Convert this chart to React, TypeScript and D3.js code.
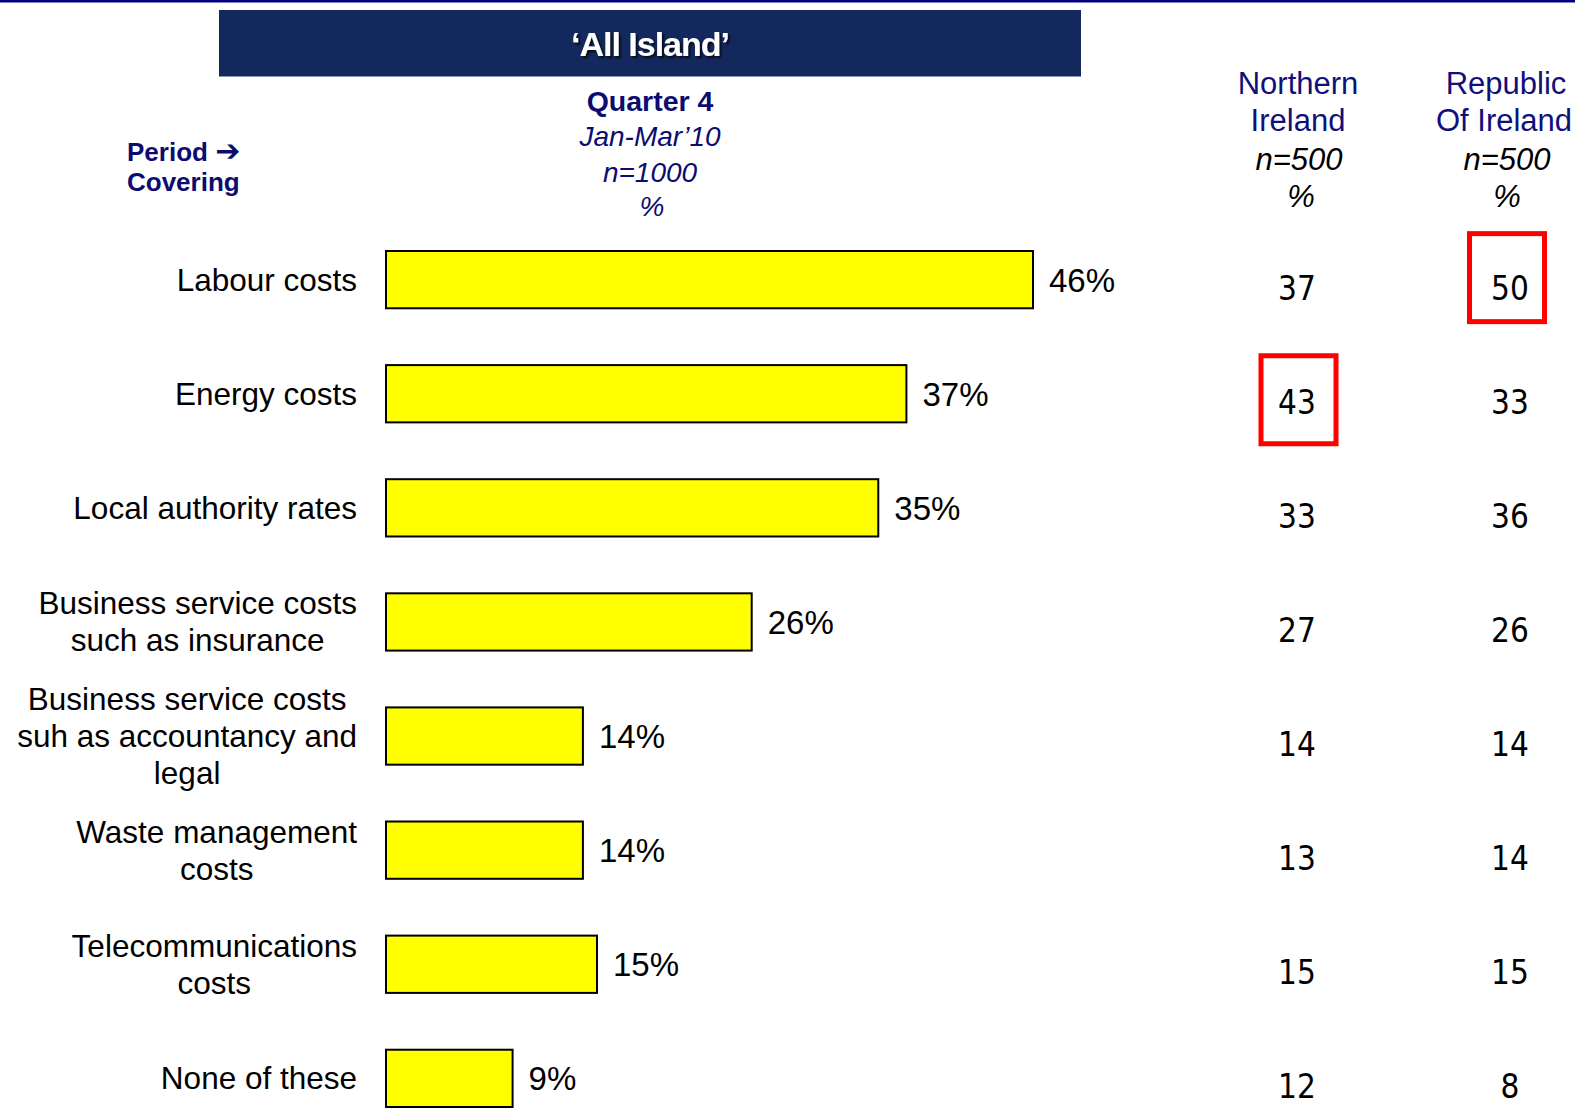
import React, { useMemo } from "react";
import * as d3 from "d3";

// ---- data ----
const categories: string[] = [
  "Labour costs",
  "Energy costs",
  "Local authority rates",
  "Business service costs such as insurance",
  "Business service costs suh as accountancy and legal",
  "Waste management costs",
  "Telecommunications costs",
  "None of these",
];
const categoryLines: string[][] = [
  ["Labour costs"],
  ["Energy costs"],
  ["Local authority rates"],
  ["Business service costs", "such as insurance"],
  ["Business service costs", "suh as accountancy and", "legal"],
  ["Waste management", "costs"],
  ["Telecommunications", "costs"],
  ["None of these"],
];
const allIsland: number[] = [46, 37, 35, 26, 14, 14, 15, 9];
const northernIreland: number[] = [37, 43, 33, 27, 14, 13, 15, 12];
const republicOfIreland: number[] = [50, 33, 36, 26, 14, 14, 15, 8];
const highlights: { row: string; col: "NI" | "ROI" }[] = [
  { row: "Labour costs", col: "ROI" },
  { row: "Energy costs", col: "NI" },
];

const W = 1575;
const H = 1110;
const NAVY = "#0c0c70";
const LABEL_FONT = "'Liberation Sans', Arial, sans-serif";
const NUM_FONT = "'DejaVu Sans Condensed', 'DejaVu Sans', sans-serif";

function measure(text: string, font: string): number {
  const c = document.createElement("canvas");
  const ctx = c.getContext("2d")!;
  ctx.font = font;
  return ctx.measureText(text).width;
}

export default function App() {
  const x = d3.scaleLinear().domain([0, 46]).range([386, 1033]);
  const y = d3.scaleBand<string>().domain(categories).range([251, 1107]).paddingInner(0.498).paddingOuter(0);
  const colX = { NI: 1297, ROI: 1510 };
  const boxCx = { NI: 1298.5, ROI: 1507 };
  const boxTop = { NI: -38, ROI: -46 };

  const labelFontSize = 31.5;
  const labelRight = 357;
  const lineGap = 37;

  const blocks = useMemo(
    () =>
      categoryLines.map((lines) => {
        const maxW = d3.max(lines, (l) => measure(l, `${labelFontSize}px ${LABEL_FONT}`)) || 0;
        return { lines, cx: labelRight - maxW / 2 };
      }),
    []
  );

  return (
    <svg
      width={W}
      height={H}
      style={{ position: "absolute", left: 0, top: 0, background: "#fff" }}
      fontFamily={LABEL_FONT}
    >
      <defs>
        <filter id="shadow" x="-10%" y="-30%" width="130%" height="170%">
          <feDropShadow dx={2} dy={2} stdDeviation={0.8} floodColor="#000" floodOpacity={0.75} />
        </filter>
      </defs>
      {/* top rule */}
      <rect x={0} y={0} width={W} height={2.5} fill="#000080" />
      {/* banner */}
      <rect x={219} y={10} width={862} height={66.5} fill="#13285c" />
      <text
        x={650}
        y={56}
        textAnchor="middle"
        fontSize={34}
        fontWeight="bold"
        fill="#fff"
        letterSpacing={-1}
        filter="url(#shadow)"
      >
        ‘All Island’
      </text>

      {/* period header */}
      <text x={127} y={161} fontSize={26} fontWeight="bold" fill={NAVY}>
        Period{" "}
        <tspan fontFamily="'DejaVu Sans', sans-serif" fontSize={30} fontWeight="bold">
          ➔
        </tspan>
      </text>
      <text x={127} y={191} fontSize={26} fontWeight="bold" fill={NAVY}>
        Covering
      </text>

      {/* all island header */}
      <g textAnchor="middle" fill={NAVY}>
        <text x={650} y={110.5} fontSize={28.5} fontWeight="bold">Quarter 4</text>
        <text x={650} y={146} fontSize={28} fontStyle="italic">Jan-Mar’10</text>
        <text x={650} y={182} fontSize={28} fontStyle="italic">n=1000</text>
        <text x={652} y={216} fontSize={28} fontStyle="italic">%</text>
      </g>

      {/* NI / ROI headers */}
      <g textAnchor="middle" fontSize={31}>
        <text x={1298} y={94} fill="#10107a">Northern</text>
        <text x={1298} y={131} fill="#10107a">Ireland</text>
        <text x={1299} y={170} fill="#000" fontStyle="italic">n=500</text>
        <text x={1301} y={207} fill="#000" fontStyle="italic">%</text>
        <text x={1506} y={94} fill="#10107a">Republic</text>
        <text x={1504} y={131} fill="#10107a">Of Ireland</text>
        <text x={1507} y={170} fill="#000" fontStyle="italic">n=500</text>
        <text x={1507} y={207} fill="#000" fontStyle="italic">%</text>
      </g>

      {/* rows */}
      {categories.map((cat, i) => {
        const top = y(cat)!;
        const bw = y.bandwidth();
        const cy = top + bw / 2;
        const b = blocks[i];
        const n = b.lines.length;
        return (
          <g key={cat}>
            <text textAnchor="middle" fontSize={labelFontSize} fill="#000">
              {b.lines.map((l, j) => (
                <tspan key={j} x={b.cx} y={cy + 11 + (j - (n - 1) / 2) * lineGap}>
                  {l}
                </tspan>
              ))}
            </text>
            <rect
              x={x(0)}
              y={top}
              width={x(allIsland[i]) - x(0)}
              height={bw}
              fill="#ffff00"
              stroke="#000"
              strokeWidth={2}
            />
            <text x={x(allIsland[i]) + 16} y={cy + 12} fontSize={33} fill="#000">
              {allIsland[i]}%
            </text>
            <text
              x={colX.NI}
              y={cy + 20}
              textAnchor="middle"
              fontSize={33}
              fontFamily={NUM_FONT}
              style={{ fontStretch: "condensed" }}
              fill="#000"
            >
              {northernIreland[i]}
            </text>
            <text
              x={colX.ROI}
              y={cy + 20}
              textAnchor="middle"
              fontSize={33}
              fontFamily={NUM_FONT}
              style={{ fontStretch: "condensed" }}
              fill="#000"
            >
              {republicOfIreland[i]}
            </text>
          </g>
        );
      })}

      {/* highlight boxes */}
      {highlights.map((h) => {
        const cy = y(h.row)! + y.bandwidth() / 2;
        return (
          <rect
            key={h.row + h.col}
            x={boxCx[h.col] - 37.5}
            y={cy + boxTop[h.col]}
            width={75}
            height={88}
            fill="none"
            stroke="#ff0000"
            strokeWidth={5}
          />
        );
      })}
    </svg>
  );
}
